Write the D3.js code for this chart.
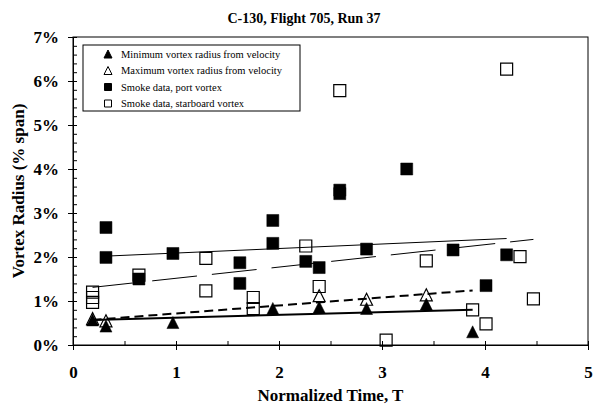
<!DOCTYPE html>
<html lang="en">
<head>
<meta charset="utf-8">
<title>C-130, Flight 705, Run 37</title>
<style>
  body { margin: 0; background: #fff; }
  svg { display: block; font-family: "Liberation Serif", "Times New Roman", serif; }
</style>
</head>
<body>
<svg id="chart" width="594" height="405"></svg>
<script src="https://d3js.org/d3.v7.min.js"></script>
<script>
// values (T, % span)
const minT = [0.19, 0.32, 0.97, 1.94, 2.39, 2.85, 3.43, 3.88];
const minR = [0.57, 0.43, 0.51, 0.83, 0.86, 0.83, 0.93, 0.30];

const maxT = [0.19, 0.32, 2.39, 2.85, 3.43];
const maxR = [0.60, 0.55, 1.12, 1.04, 1.14];

const portT = [0.32, 0.32, 0.64, 0.97, 1.62, 1.62, 1.94, 1.94, 2.26, 2.39, 2.59, 2.59, 2.85, 3.24, 3.69, 4.01, 4.21];
const portR = [2.67, 1.99, 1.50, 2.08, 1.87, 1.40, 2.83, 2.31, 1.90, 1.76, 3.52, 3.44, 2.18, 4.00, 2.16, 1.35, 2.05];

const starT = [0.19, 0.19, 0.19, 0.64, 1.29, 1.29, 1.75, 1.75, 2.26, 2.39, 2.59, 3.04, 3.43, 3.88, 4.01, 4.21, 4.34, 4.47];
const starR = [1.20, 1.08, 0.97, 1.59, 1.97, 1.23, 1.08, 0.83, 2.25, 1.33, 5.78, 0.11, 1.91, 0.80, 0.48, 6.27, 2.01, 1.05];

// trend line end points (T, % span)
const trendPortT = [0.32, 4.21], trendPortR = [2.02, 2.42];
const trendStarT = [0.19, 4.47], trendStarR = [1.31, 2.40];
const trendMaxT = [0.19, 3.88], trendMaxR = [0.57, 1.24];
const trendMinT = [0.19, 3.88], trendMinR = [0.57, 0.80];

const xTicks = [0, 1, 2, 3, 4, 5];
const yTicks = [0, 1, 2, 3, 4, 5, 6, 7];
const legendLabels = [
  "Minimum vortex radius from velocity",
  "Maximum vortex radius from velocity",
  "Smoke data, port vortex",
  "Smoke data, starboard vortex"
];

const svg = d3.select("#chart");
const plotL = 73, plotR = 588, plotT = 37, plotB = 345;

const x = d3.scaleLinear().domain([0, 5]).range([plotL, plotR]);
const y = d3.scaleLinear().domain([0, 7]).range([plotB, plotT]);

svg.append("rect").attr("width", 594).attr("height", 405).attr("fill", "#fff");

// title
svg.append("text")
  .attr("x", 304).attr("y", 23)
  .attr("text-anchor", "middle")
  .style("font-size", "14px").style("font-weight", "bold")
  .text("C-130, Flight 705, Run 37");

// frame
svg.append("rect")
  .attr("x", plotL).attr("y", plotT)
  .attr("width", plotR - plotL).attr("height", plotB - plotT)
  .attr("fill", "none").attr("stroke", "#000").attr("stroke-width", 1);

// x axis: major ticks out with labels, all ticks in
const xAxis = svg.append("g")
  .attr("transform", `translate(0,${plotB})`)
  .call(d3.axisBottom(x).tickValues(xTicks).tickSizeInner(5).tickSizeOuter(0).tickPadding(16).tickFormat(d3.format("d")));
svg.append("g")
  .attr("transform", `translate(0,${plotB})`)
  .call(d3.axisTop(x).tickValues(d3.range(0, 5.01, 0.5)).tickSizeInner(4).tickSizeOuter(0).tickFormat(""));

// y axis
const yAxis = svg.append("g")
  .attr("transform", `translate(${plotL},0)`)
  .call(d3.axisLeft(y).tickValues(yTicks).tickSizeInner(5).tickSizeOuter(0).tickPadding(9).tickFormat(d => d + "%"));
svg.append("g")
  .attr("transform", `translate(${plotL},0)`)
  .call(d3.axisRight(y).tickValues(d3.range(0, 7.01, 0.2)).tickSizeInner(4).tickSizeOuter(0).tickFormat(""));

svg.selectAll(".tick line").attr("stroke", "#000");
svg.selectAll(".domain").attr("stroke", "#000");
[xAxis, yAxis].forEach(a => a.selectAll("text")
  .style("font-size", "17px").style("font-weight", "bold").attr("fill", "#000")
  .style("font-family", "'Liberation Serif', serif"));

// axis titles
svg.append("text")
  .attr("x", (plotL + plotR) / 2).attr("y", 401)
  .attr("text-anchor", "middle")
  .style("font-size", "17px").style("font-weight", "bold")
  .text("Normalized Time, T");
svg.append("text")
  .attr("transform", `translate(24,${(plotT + plotB) / 2}) rotate(-90)`)
  .attr("text-anchor", "middle")
  .style("font-size", "17px").style("font-weight", "bold")
  .text("Vortex Radius (% span)");

// trend lines
const line = d3.line().x(d => x(d[0])).y(d => y(d[1]));
const trends = [
  { t: trendPortT, r: trendPortR, w: 1, dash: null },
  { t: trendStarT, r: trendStarR, w: 1, dash: "45,15" },
  { t: trendMaxT, r: trendMaxR, w: 2, dash: "9,5" },
  { t: trendMinT, r: trendMinR, w: 2, dash: null }
];
svg.append("g").selectAll("path")
  .data(trends)
  .join("path")
  .attr("d", d => line(d.t.map((t, i) => [t, d.r[i]])))
  .attr("fill", "none")
  .attr("stroke", "#000")
  .attr("stroke-width", d => d.w)
  .attr("stroke-dasharray", d => d.dash);

// markers
const tri = {
  draw(ctx, size) {
    const s = Math.sqrt(size);
    ctx.moveTo(0, -s / 2);
    ctx.lineTo(s / 2, s / 2);
    ctx.lineTo(-s / 2, s / 2);
    ctx.closePath();
  }
};
const sq = {
  draw(ctx, size) {
    const s = Math.sqrt(size);
    ctx.rect(-s / 2, -s / 2, s, s);
  }
};

// open markers are hollow, so they go on top and let the others show through
const series = [
  { t: minT, r: minR, type: tri, fill: "#000", size: 12 },
  { t: portT, r: portR, type: sq, fill: "#000", size: 12 },
  { t: maxT, r: maxR, type: tri, fill: "none", size: 12 },
  { t: starT, r: starR, type: sq, fill: "none", size: 12 }
];

series.forEach(s => {
  const sym = d3.symbol(s.type, s.size * s.size);
  svg.append("g").selectAll("path")
    .data(s.t.map((t, i) => [t, s.r[i]]))
    .join("path")
    .attr("transform", d => `translate(${x(d[0])},${y(d[1])})`)
    .attr("d", sym())
    .attr("fill", s.fill)
    .attr("stroke", "#000")
    .attr("stroke-width", s.fill === "none" ? 1.2 : 0.5);
});

// legend
const legend = svg.append("g");
legend.append("rect")
  .attr("x", 83).attr("y", 45).attr("width", 217).attr("height", 66)
  .attr("fill", "#fff").attr("stroke", "#000").attr("stroke-width", 1);

const legendMarks = [
  { type: tri, fill: "#000", size: 8 },
  { type: tri, fill: "#fff", size: 8 },
  { type: sq, fill: "#000", size: 7 },
  { type: sq, fill: "#fff", size: 7 }
];
const rows = legend.selectAll("g.row")
  .data(legendLabels)
  .join("g")
  .attr("class", "row")
  .attr("transform", (d, i) => `translate(0,${54 + i * 16.5})`);
rows.append("path")
  .attr("transform", "translate(108,0)")
  .attr("d", (d, i) => d3.symbol(legendMarks[i].type, legendMarks[i].size ** 2)())
  .attr("fill", (d, i) => legendMarks[i].fill)
  .attr("stroke", "#000")
  .attr("stroke-width", 1);
rows.append("text")
  .attr("x", 121).attr("dy", "0.35em")
  .style("font-size", "10.5px")
  .text(d => d);
</script>
</body>
</html>
